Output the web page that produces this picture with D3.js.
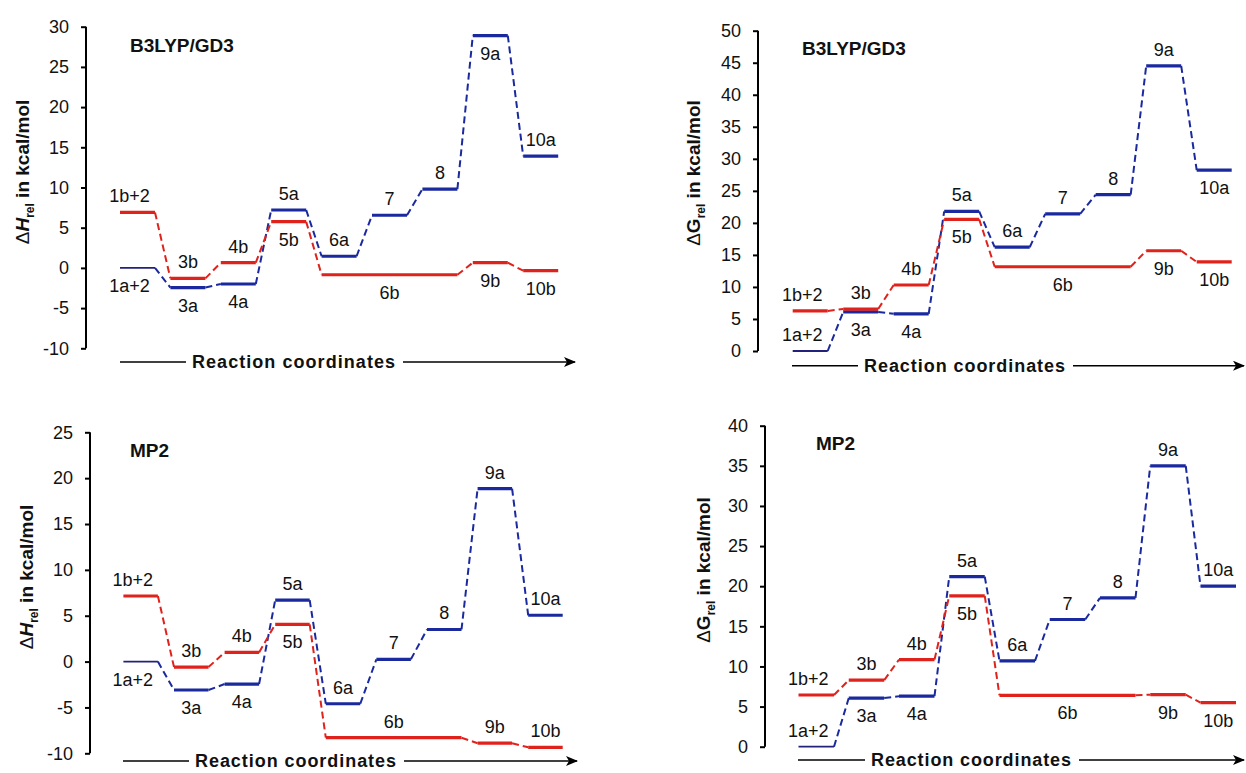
<!DOCTYPE html>
<html>
<head>
<meta charset="utf-8">
<script src="https://cdn.jsdelivr.net/npm/d3@7"></script>
<style>
  body { margin: 0; background: #fff; }
  text { font-family: 'Liberation Sans', Arial, sans-serif; fill: #111; }
</style>
</head>
<body>
<script>
const width = 1246
const height = 773

// stage labels
const labelsA = ['1a+2', '3a', '4a', '5a', '6a', '7', '8', '9a', '10a']
const labelsB = ['1b+2', '3b', '4b', '5b', '6b', '9b', '10b']
// pathway b: which stage slots each level covers (6b spans 6..8)
const startB = [0, 1, 2, 3, 4, 7, 8]
const endB = [0, 1, 2, 3, 6, 7, 8]

// B3LYP/GD3 enthalpy
const hB3lypA = [0, -2.45, -2.0, 7.2, 1.45, 6.55, 9.8, 28.9, 13.9]
const hB3lypB = [6.9, -1.3, 0.65, 5.75, -0.85, 0.65, -0.35]
// B3LYP/GD3 free energy
const gB3lypA = [0, 6.1, 5.8, 21.8, 16.2, 21.4, 24.4, 44.5, 28.25]
const gB3lypB = [6.25, 6.55, 10.3, 20.55, 13.15, 15.65, 13.9]
// MP2 enthalpy
const hMp2A = [0, -3.1, -2.45, 6.7, -4.6, 0.25, 3.5, 18.85, 5.05]
const hMp2B = [7.15, -0.6, 1.0, 4.05, -8.3, -8.9, -9.35]
// MP2 free energy
const gMp2A = [0, 6.06, 6.3, 21.2, 10.7, 15.85, 18.55, 35.0, 20.0]
const gMp2B = [6.44, 8.3, 10.85, 18.8, 6.4, 6.48, 5.48]

const blue = '#1a2a9e'
const red = '#e0221c'

const panels = [
  {
    a: hB3lypA, b: hB3lypB, domain: [-10, 30], q: 'H', title: 'B3LYP/GD3',
    axisX: 86, yTop: 26.7, yBot: 348.3, posX0: 120, step: 50.4, w: 35,
    titleX: 130, titleY: 45, ylabX: 22, ylabY: 172,
    arrowY: 362, arrowX0: 120, arrowX1: 575, textX0: 192, textX1: 395,
    sideA: 'dddUUUUdU', sideB: 'UUUdddd'
  },
  {
    a: gB3lypA, b: gB3lypB, domain: [0, 50], q: 'G', title: 'B3LYP/GD3',
    axisX: 758, yTop: 30.7, yBot: 351, posX0: 792.7, step: 50.5, w: 35,
    titleX: 802, titleY: 48, ylabX: 693, ylabY: 173,
    arrowY: 365.7, arrowX0: 792, arrowX1: 1244, textX0: 864, textX1: 1065,
    sideA: 'UddUUUUUd', sideB: 'UUUdddd'
  },
  {
    a: hMp2A, b: hMp2B, domain: [-10, 25], q: 'H', title: 'MP2',
    axisX: 90, yTop: 432.3, yBot: 753.3, posX0: 123.4, step: 50.6, w: 34.5,
    titleX: 130, titleY: 450, ylabX: 26, ylabY: 577,
    arrowY: 761, arrowX0: 123, arrowX1: 577, textX0: 195, textX1: 396,
    sideA: 'dddUUUUUU', sideB: 'UUUdUUU'
  },
  {
    a: gMp2A, b: gMp2B, domain: [0, 40], q: 'G', title: 'MP2',
    axisX: 765, yTop: 425.7, yBot: 746.7, posX0: 798.5, step: 50.25, w: 35.5,
    titleX: 816, titleY: 443, ylabX: 703, ylabY: 570,
    arrowY: 760, arrowX0: 798, arrowX1: 1244, textX0: 871, textX1: 1071,
    sideA: 'UddUUUUUU', sideB: 'UUUdddd'
  }
]

const svg = d3.select('body').append('svg')
  .attr('width', width)
  .attr('height', height)

svg.append('defs').append('marker')
  .attr('id', 'arrow')
  .attr('viewBox', '0 0 12 10')
  .attr('refX', 11)
  .attr('refY', 5)
  .attr('markerWidth', 12)
  .attr('markerHeight', 10)
  .attr('markerUnits', 'userSpaceOnUse')
  .attr('orient', 'auto')
  .append('path')
  .attr('d', 'M0,0 L12,5 L0,10 L3,5 Z')
  .attr('fill', '#000')

function drawPanel (p) {
  const g = svg.append('g')
  const y = d3.scaleLinear().domain(p.domain).range([p.yBot, p.yTop])
  const x = d3.scaleLinear().domain([0, 8]).range([p.posX0, p.posX0 + 8 * p.step])

  // y axis (plain hyphen for negatives, like the original)
  const axis = g.append('g')
    .attr('transform', 'translate(' + p.axisX + ',0)')
    .call(d3.axisLeft(y)
      .tickValues(d3.range(p.domain[0], p.domain[1] + 1, 5))
      .tickFormat(function (d) { return String(d) })
      .tickSize(5).tickPadding(12))
  axis.select('.domain').attr('stroke', '#000').attr('stroke-width', 2)
    .attr('d', 'M0,' + y(p.domain[0]) + 'V' + y(p.domain[1]))
  axis.selectAll('.tick line').attr('stroke', '#000').attr('stroke-width', 2)
  axis.selectAll('.tick text').style('font-size', '18px').attr('fill', '#111')

  // y label
  const yl = g.append('text')
    .attr('transform', 'translate(' + p.ylabX + ',' + p.ylabY + ') rotate(-90)')
    .attr('text-anchor', 'middle')
    .attr('dy', '0.35em')
    .style('font-size', '19px')
    .style('font-weight', 'bold')
  yl.append('tspan').text('\u0394').style('font-weight', 'normal')
  yl.append('tspan').text(p.q).style('font-style', p.q === 'H' ? 'italic' : 'normal')
  yl.append('tspan').text('rel').attr('dy', 5).style('font-size', '12px')
  yl.append('tspan').text(' in kcal/mol').attr('dy', -5)

  // title
  g.append('text')
    .attr('x', p.titleX).attr('y', p.titleY)
    .attr('dy', '0.35em')
    .style('font-size', '19px').style('font-weight', 'bold')
    .text(p.title)

  const levA = p.a.map(function (v, i) { return { v: v, s: i, e: i, label: labelsA[i], side: p.sideA[i] } })
  const levB = p.b.map(function (v, i) { return { v: v, s: startB[i], e: endB[i], label: labelsB[i], side: p.sideB[i] } })

  function drawPath (lev, color) {
    // dashed connectors
    g.selectAll(null)
      .data(d3.pairs(lev))
      .enter().append('line')
      .attr('x1', function (d) { return x(d[0].e) + p.w })
      .attr('y1', function (d) { return y(d[0].v) })
      .attr('x2', function (d) { return x(d[1].s) })
      .attr('y2', function (d) { return y(d[1].v) })
      .attr('stroke', color)
      .attr('stroke-width', 2)
      .attr('stroke-dasharray', '7,4')
    // levels
    g.selectAll(null)
      .data(lev)
      .enter().append('line')
      .attr('x1', function (d) { return x(d.s) })
      .attr('x2', function (d) { return x(d.e) + p.w })
      .attr('y1', function (d) { return y(d.v) })
      .attr('y2', function (d) { return y(d.v) })
      .attr('stroke', function (d, i) { return (color === blue && i === 0) ? '#22227a' : color })
      .attr('stroke-width', function (d, i) { return (color === blue && i === 0) ? 1.8 : 3.2 })
    // labels
    g.selectAll(null)
      .data(lev)
      .enter().append('text')
      .attr('x', function (d) { return (x(d.s) + x(d.e)) / 2 + p.w / 2 + (d.s === 0 ? -8 : 0) })
      .attr('y', function (d) { return y(d.v) + (d.side === 'U' ? -10 : 24) })
      .attr('text-anchor', 'middle')
      .style('font-size', '18px')
      .text(function (d) { return d.label })
  }
  drawPath(levA, blue)
  drawPath(levB, red)

  // reaction coordinate arrow
  g.append('line')
    .attr('x1', p.arrowX0).attr('x2', p.textX0 - 6)
    .attr('y1', p.arrowY).attr('y2', p.arrowY)
    .attr('stroke', '#000').attr('stroke-width', 1.6)
  g.append('line')
    .attr('x1', p.textX1 + 8).attr('x2', p.arrowX1)
    .attr('y1', p.arrowY).attr('y2', p.arrowY)
    .attr('stroke', '#000').attr('stroke-width', 1.6)
    .attr('marker-end', 'url(#arrow)')
  g.append('text')
    .attr('x', (p.textX0 + p.textX1) / 2).attr('y', p.arrowY)
    .attr('dy', '0.34em')
    .attr('text-anchor', 'middle')
    .attr('textLength', p.textX1 - p.textX0)
    .style('font-size', '18px').style('font-weight', 'bold')
    .text('Reaction coordinates')
}

panels.forEach(drawPanel)
</script>
</body>
</html>
